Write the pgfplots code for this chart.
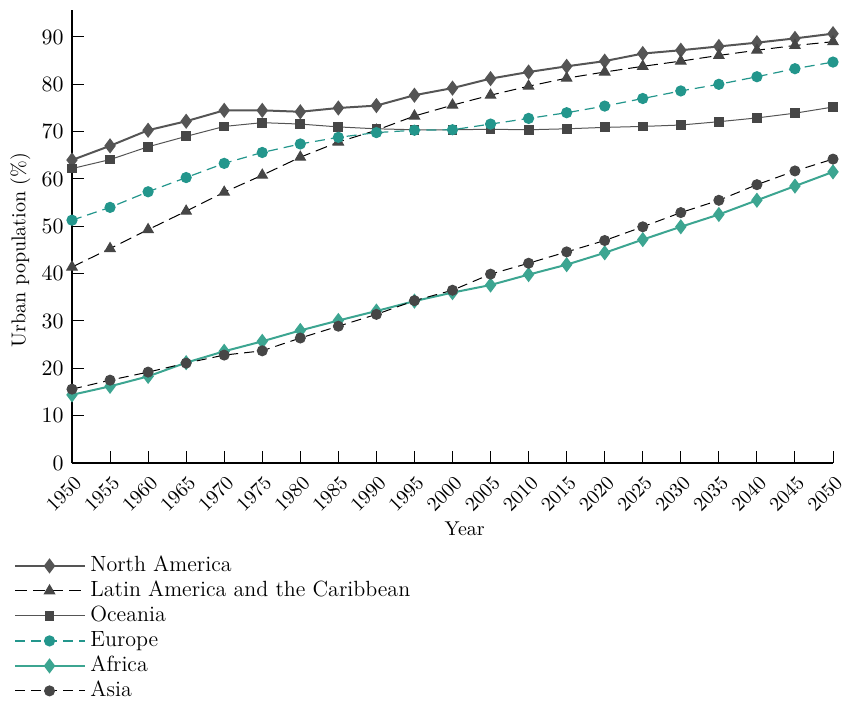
\documentclass[border=0pt]{standalone}
\usepackage{pgfplots}
\pgfplotsset{compat=1.18}

\definecolor{nagray}{RGB}{85,85,85}
\definecolor{mark}{RGB}{70,70,70}
\definecolor{tealA}{RGB}{60,165,145}
\definecolor{tealE}{RGB}{35,150,140}

\begin{document}
\begin{tikzpicture}
\begin{axis}[
  scale only axis,
  width=380.5pt, height=226.5pt,
  xmin=1950, xmax=2050,
  ymin=0, ymax=95.7,
  axis x line=bottom, axis y line=left,
  x axis line style={-, black, line width=0.7pt},
  y axis line style={-, black, line width=1pt},
  tick align=inside,
  major tick length=6pt,
  tick style={black, line width=0.5pt},
  xtick={1950,1955,...,2050},
  ytick={0,10,...,90},
  ticklabel style={font=\fontsize{10.5}{12}\selectfont},
  xticklabel style={/pgf/number format/1000 sep={}, font=\fontsize{10}{12}\selectfont, rotate=45, anchor=north east, inner sep=0pt, xshift=-3.5pt, yshift=-4.5pt},
  yticklabel style={inner sep=1pt, xshift=-3pt},
  xlabel={Year},
  ylabel={Urban population (\%)},
  label style={font=\fontsize{10.5}{12}\selectfont},
  every axis x label/.style={at={(axis description cs:0.516,0)}, anchor=center, yshift=-33pt},
  every axis y label/.style={at={(axis description cs:-0.068,0.47)}, anchor=center, rotate=90},
  legend cell align=left,
  legend style={
    at={(axis description cs:0,0)}, anchor=north west,
    xshift=-32pt, yshift=-43pt,
    draw=none, fill=none,
    font=\fontsize{11}{12}\selectfont,
    row sep=0pt,
    nodes={text height=8pt, text depth=2.5pt, inner ysep=1pt}
  },
  legend image code/.code={
    \draw[mark repeat=2, mark phase=2, #1] plot coordinates {(0cm,0cm) (0.6cm,0cm) (1.23cm,0cm)};
  },
]
\addplot[nagray, line width=1pt, mark=diamond*, mark size=3pt, mark options={solid, fill=nagray, draw=nagray}]
coordinates {
(1950,64.0) (1955,67.0) (1960,70.3) (1965,72.2) (1970,74.5) (1975,74.5) (1980,74.2)
(1985,75.0) (1990,75.5) (1995,77.7) (2000,79.2) (2005,81.2) (2010,82.6) (2015,83.8)
(2020,84.9) (2025,86.5) (2030,87.2) (2035,88.0) (2040,88.8) (2045,89.7) (2050,90.7)
};
\addlegendentry{North America}
\addplot[black, line width=0.5pt, dash pattern=on 6pt off 3pt, mark=triangle*, mark size=3pt, mark options={solid, fill=mark, draw=mark}]
coordinates {
(1950,41.4) (1955,45.3) (1960,49.3) (1965,53.2) (1970,57.2) (1975,60.8) (1980,64.6)
(1985,67.8) (1990,70.3) (1995,73.3) (2000,75.6) (2005,77.7) (2010,79.6) (2015,81.3)
(2020,82.6) (2025,83.8) (2030,84.9) (2035,86.1) (2040,87.2) (2045,88.2) (2050,89.0)
};
\addlegendentry{Latin America and the Caribbean}
\addplot[nagray, line width=0.5pt, mark=square*, mark size=2.2pt, mark options={solid, fill=mark, draw=mark}]
coordinates {
(1950,62.2) (1955,64.1) (1960,66.8) (1965,69.0) (1970,71.1) (1975,71.9) (1980,71.6)
(1985,71.0) (1990,70.6) (1995,70.4) (2000,70.4) (2005,70.5) (2010,70.4) (2015,70.6)
(2020,70.9) (2025,71.1) (2030,71.4) (2035,72.1) (2040,72.9) (2045,73.9) (2050,75.2)
};
\addlegendentry{Oceania}
\addplot[tealE, line width=0.6pt, dash pattern=on 5pt off 3pt, mark=*, mark size=2.5pt, mark options={solid, fill=tealE, draw=tealE}]
coordinates {
(1950,51.3) (1955,54.0) (1960,57.3) (1965,60.3) (1970,63.3) (1975,65.6) (1980,67.4)
(1985,68.8) (1990,69.8) (1995,70.3) (2000,70.4) (2005,71.6) (2010,72.8) (2015,74.0)
(2020,75.4) (2025,77.0) (2030,78.6) (2035,80.0) (2040,81.6) (2045,83.3) (2050,84.7)
};
\addlegendentry{Europe}
\addplot[tealA, line width=1pt, mark=diamond*, mark size=3pt, mark options={solid, fill=tealA, draw=tealA}]
coordinates {
(1950,14.4) (1955,16.2) (1960,18.3) (1965,21.2) (1970,23.6) (1975,25.7) (1980,28.0)
(1985,30.1) (1990,32.1) (1995,34.2) (2000,36.0) (2005,37.6) (2010,39.8) (2015,41.9)
(2020,44.4) (2025,47.2) (2030,49.9) (2035,52.5) (2040,55.5) (2045,58.5) (2050,61.5)
};
\addlegendentry{Africa}
\addplot[black, line width=0.5pt, dash pattern=on 5pt off 3pt, mark=*, mark size=2.5pt, mark options={solid, fill=mark, draw=mark}]
coordinates {
(1950,15.6) (1955,17.5) (1960,19.2) (1965,21.1) (1970,22.8) (1975,23.7) (1980,26.4)
(1985,28.9) (1990,31.4) (1995,34.3) (2000,36.5) (2005,39.9) (2010,42.2) (2015,44.6)
(2020,47.0) (2025,49.9) (2030,52.9) (2035,55.5) (2040,58.8) (2045,61.7) (2050,64.2)
};
\addlegendentry{Asia}
% invisible frame fixing the picture's extent
\path (rel axis cs:0,1) ++(-36pt,5pt) coordinate (tl);
\path (rel axis cs:1,0) ++(6pt,-119pt) coordinate (br);
\end{axis}
\pgfresetboundingbox
\useasboundingbox (tl) rectangle (br);
\end{tikzpicture}
\end{document}
